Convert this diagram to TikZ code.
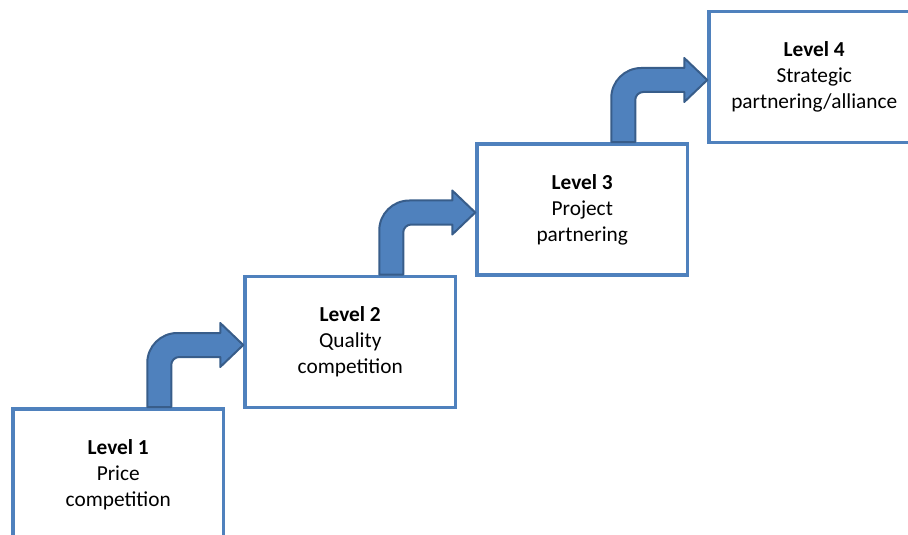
\documentclass[tikz,border=0pt]{standalone}
\usepackage{fontspec}
\setmainfont{Carlito}
\usetikzlibrary{calc}
\definecolor{boxblue}{HTML}{4F81BD}
\definecolor{arrowline}{HTML}{385D8A}
\begin{document}
\begin{tikzpicture}[x=0.75pt,y=-0.75pt,
  level/.style={draw=boxblue, line width=2.6pt, minimum width=157.9pt, minimum height=98.5pt,
    align=center, inner sep=0pt, font=\fontsize{16pt}{19.5pt}\selectfont},
  bent/.style={fill=boxblue, draw=arrowline, line width=1.5pt, line join=round}]

\useasboundingbox (0,0) rectangle (908,535);
\clip (0,0) rectangle (908,535);

\node[level] (l1) at (118.25,474.5) {\textbf{Level 1}\\Price\\competition};
\node[level] (l2) at (350.25,342) {\textbf{Level 2}\\Quality\\competition};
\node[level] (l3) at (582.25,209.5) {\textbf{Level 3}\\Project\\partnering};
\node[level] (l4) at (814.25,77) {\textbf{Level 4}\\Strategic\\partnering/alliance};

% bent arrows from the top of one level to the side of the next
\foreach \a/\b in {l1/l2, l2/l3, l3/l4}{
\path[bent] let \p1=($(\a.north west)+(148,0)$), \p2=($(\b.west)+(0,3)$) in
  (\x1-9pt,\y1) -- (\x1-9pt,\y2-13.5pt) arc[start angle=180, end angle=90, radius=22.5pt]
  -- (\x2-17.25pt,\y2+9pt) -- (\x2-17.25pt,\y2+16.5pt) -- (\x2,\y2)
  -- (\x2-17.25pt,\y2-16.5pt) -- (\x2-17.25pt,\y2-9pt)
  -- (\x1+15pt,\y2-9pt) arc[start angle=90, end angle=180, radius=6pt] -- (\x1+9pt,\y1) -- cycle;
}
\end{tikzpicture}
\end{document}
